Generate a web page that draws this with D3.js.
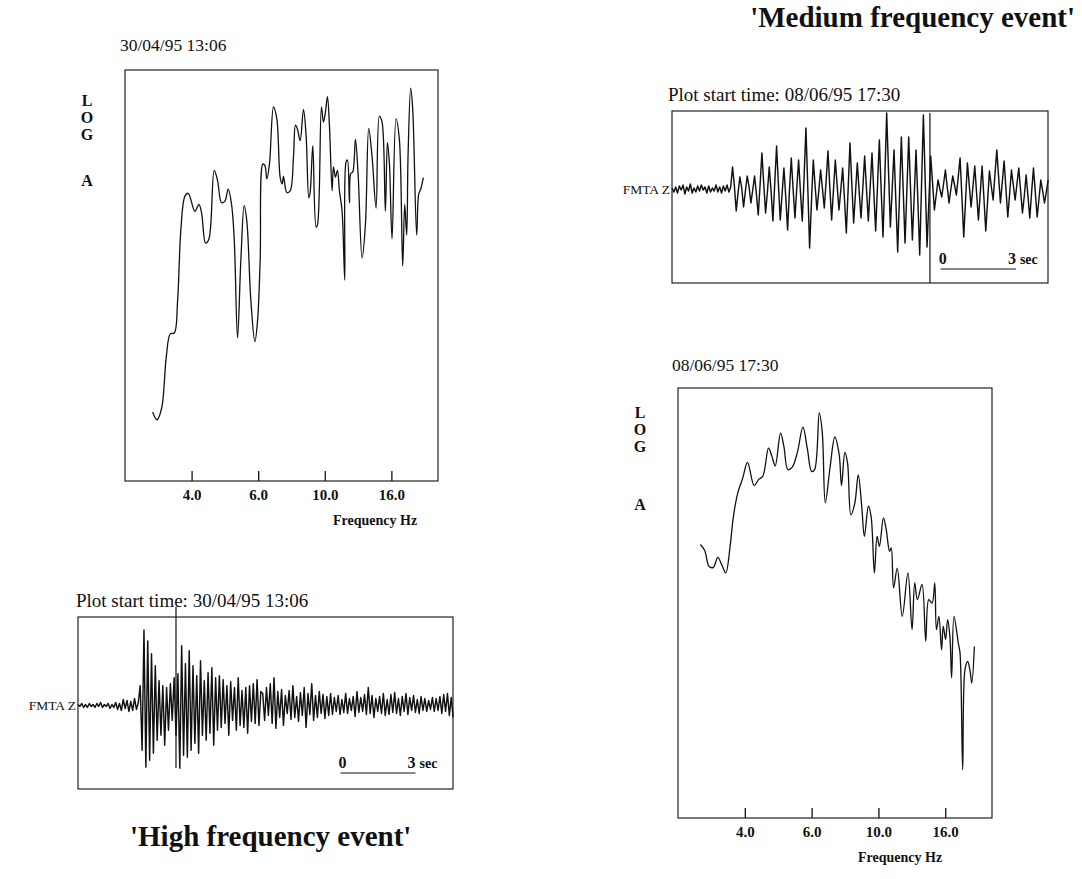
<!DOCTYPE html>
<html>
<head>
<meta charset="utf-8">
<script src="https://cdn.jsdelivr.net/npm/d3@7/dist/d3.min.js"></script>
<style>
body{margin:0;background:#fff}
svg text{font-family:"Liberation Serif","Times New Roman",serif;fill:#111}
</style>
</head>
<body>
<svg width="1082" height="879"></svg>
<script>
// frequency axis (ticks are equally spaced, axis is not linear in Hz)
var freqTicks = [4, 6, 10, 16]
var freqLimits = [2, 22.3]

// spectrum of the high frequency event, 30/04/95 13:06 (log A in % of plot height)
var highSpecFreq = [2.83,2.96,3.10,3.24,3.36,3.48,3.58,3.68,3.80,3.90,4.10,4.22,4.30,4.42,4.52,4.68,4.78,4.90,5.00,5.10,
    5.20,5.28,5.38,5.48,5.58,5.66,5.78,5.90,5.98,6.12,6.28,6.40,6.52,6.68,6.92,7.12,7.32,7.44,7.52,7.72,
    7.92,8.12,8.24,8.36,8.52,8.72,8.88,9.04,9.12,9.28,9.48,9.56,9.80,9.92,10.06,10.24,10.42,10.66,10.78,10.96,
    11.14,11.32,11.56,11.80,11.92,12.04,12.22,12.34,12.52,12.76,13.00,13.36,13.66,13.96,14.26,14.62,14.92,15.16,15.46,15.64,
    15.82,16.09,16.63,17.08,17.53,17.80,18.07,18.25,18.61,18.88,19.42,19.69,19.96,20.32]
var highSpecLogA = [16.8,14.9,17.7,30.2,35.8,36,43.9,61.4,69.3,70,65.6,67.3,65.2,57.9,58.9,75.6,73.1,67.7,68.1,71,
    67.3,58.9,34.8,53.9,67,63.1,43.9,33.9,38.9,53.9,77.1,76.8,73.5,77.3,91,88.1,73.9,72.3,74.1,70.2,
    70.6,78.9,86.6,85.6,82.8,90.4,83.9,68.9,70.2,81.6,61.8,62.3,91,87.3,89.8,93.5,86.4,70.6,76.4,73.9,
    75.6,70.6,65.6,48.9,77.7,78.1,67.7,74.8,75.2,83.1,74.8,54.3,62.3,85.8,78.9,66.4,88.8,87.3,65.6,82.3,
    77.3,58.9,88.1,83.1,52.3,67.3,59.8,78.9,95.6,90.6,59.8,69.8,71,73.8]

// spectrum of the medium frequency event, 08/06/95 17:30
var medSpecFreq = [2.67,2.80,2.93,3.06,3.19,3.31,3.43,3.56,3.66,3.79,3.94,4.08,4.28,4.41,4.54,4.71,4.81,4.91,5.07,5.17,
    5.29,5.42,5.57,5.74,5.87,6.00,6.18,6.46,6.64,6.82,7.10,7.39,7.65,7.79,7.99,8.15,8.35,8.59,8.79,9.00,
    9.16,9.40,9.56,9.76,9.92,10.09,10.45,10.70,11.00,11.15,11.36,11.69,12.14,12.65,13.02,13.26,13.50,13.92,14.25,14.52,
    14.82,15.06,15.21,15.43,15.67,15.82,16.05,16.32,16.63,16.86,17.18,17.76,17.99,18.35,18.66,19.03,19.35,19.57,19.93]
var medSpecLogA = [63.6,62.2,58.5,58.3,60.6,58.9,57.0,63.2,70.2,75.6,79.1,82.7,77.3,78.7,79.5,86.0,84.1,81.9,89.5,86.4,
    81.0,81.6,84.9,90.9,86.0,80.6,81.0,94.2,89.5,73.3,81.4,88.6,84.5,77.3,85.0,82.6,70.5,73.3,79.8,72.5,
    65.5,72.5,70.2,57.0,65.5,63.2,69.8,67.1,62.0,62.8,53.5,58.1,46.9,57.0,43.8,54.7,50.8,54.3,41.1,50.8,
    50.0,54.7,43.8,46.9,39.1,44.6,41.5,46.1,42.2,32.6,46.9,40.7,38.4,11.2,34.5,36.4,34.1,31.4,39.9]

// FMTA Z seismograms, counts sampled every dt seconds
var highTrace = [1,-1,2,-2,1,-2,2,-1,1,-2,2,-1,3,-2,1,-1,2,-3,1,-2,3,-4,2,-5,6,-3,5,-6,4,-5,7,-4,3,
    20,-45,76,-62,65,-55,52,-48,40,
    -35,25,-30,20,-40,18,-25,22,-15,28,
    -30,32,-63,60,-50,42,-52,55,-45,
    40,-38,30,-48,45,-30,25,-35,33,-28,38,-40,28,-25,30,
    -22,26,-18,20,-30,24,-15,18,-25,28,-20,15,-22,18,-28,20,-16,22,-18,26,-20,14,
    12,-15,18,-10,22,-18,28,-23,14,-12,16,-20,10,-8,15,-14,20,-12,9,-16,13,-10,18,-22,12,-9,22,-15,10,-12,14,-8,11,-13,9,-10,12,-9,
    8,-6,10,-9,6,-7,12,-8,7,-5,9,-11,14,-7,8,-6,11,-9,18,-8,10,-12,7,-6,9,-8,12,-10,6,-9,11,-7,13,-8,7,-10,9,-6,12,-9,
    8,-5,10,-7,6,-8,9,-5,7,-6,5,-4,8,-6,7,-5,9,-8,11,-6,12,-10,8,-12]
var highDt = 0.0754

var medTrace = [1,-3,2,-4,3,-1,4,-5,2,-2,5,-4,1,-3,3,-2,4,-1,2,-4,3,-3,1,-2,4,-3,2,-4,3,-2,4,-3,2,
    22,3,-22,-4,12,1,-18,-2,13,2,-14,-1,13,-5,-26,4,36,5,-24,-3,22,-2,-32,6,43,4,-31,-5,21,-8,-41,-2,
    31,0,-29,1,29,-3,-32,12,61,2,-59,-13,29,3,-21,-2,19,0,-19,8,38,2,-31,-1,29,4,-21,-1,21,-10,-44,0,
    46,5,-34,-4,26,-2,-29,1,33,0,-32,2,36,-4,-42,3,49,-1,-48,12,76,18,-38,0,39,-12,-63,-6,52,-1,-54,-2,
    52,0,-51,-7,39,-12,-66,4,74,8,-58,-12,
    33,6,-21,-6,9,0,-8,5,19,2,-14,0,13,4,-6,12,31,-8,-48,-11,26,4,-18,2,23,-4,-31,-4,23,-9,-42,-12,
    18,3,-11,14,39,12,-14,7,28,0,-28,-5,19,4,-11,5,21,-2,-24,-7,14,-7,-29,-3,21,-3,-28,-10,9,-2,-14,-3,9]
var medDt = 0.0732

var traceSpan = 15        // seconds shown in each seismogram box
var highPick = 3.92       // picked arrival, seconds
var medPick = 10.29
var scaleBar = 3          // seconds

var svg = d3.select("svg")

var addText = function(x, y, str, size, weight, anchor)
{
    return svg.append("text")
        .attr("x", x)
        .attr("y", y)
        .attr("font-size", size)
        .attr("font-weight", weight || "normal")
        .attr("text-anchor", anchor || "start")
        .text(str)
}

var drawSpectrum = function(box, freq, logA, dateText)
{
    var breaks = [freqLimits[0]].concat(freqTicks).concat([freqLimits[1]])
    var steps = [0, 1, 2, 3, 4, 4.7]
    var xScale = d3.scaleLinear()
        .domain(breaks)
        .range(steps.map(function(s){ return box.x + s * box.w / 4.7 }))
    var yScale = d3.scaleLinear()
        .domain([0, 100])
        .range([box.y + box.h, box.y])

    svg.append("rect")
        .attr("x", box.x).attr("y", box.y)
        .attr("width", box.w).attr("height", box.h)
        .attr("fill", "none")
        .attr("stroke", "#222")
        .attr("stroke-width", 1.2)

    var axis = svg.append("g")
        .attr("transform", "translate(0," + (box.y + box.h) + ")")
        .call(d3.axisBottom(xScale)
            .tickValues(freqTicks)
            .tickFormat(d3.format(".1f"))
            .tickSize(-10)
            .tickPadding(box.pad))
    axis.select(".domain").remove()
    axis.selectAll("line").attr("stroke", "#111").attr("stroke-width", 1.3)
    axis.selectAll("text")
        .attr("font-size", 15)
        .attr("font-weight", "bold")
        .attr("font-family", "'Liberation Serif',serif")
        .attr("fill", "#111")

    var line = d3.line()
        .x(function(d){ return xScale(d[0]) })
        .y(function(d){ return yScale(d[1]) })
        .curve(d3.curveCatmullRom.alpha(0.5))

    svg.append("path")
        .datum(d3.zip(freq, logA))
        .attr("d", line)
        .attr("fill", "none")
        .attr("stroke", "#111")
        .attr("stroke-width", 1.3)

    addText(box.dateX, box.dateY, dateText, 17.5)
    addText(box.hzX, box.hzY, "Frequency Hz", 14, "bold")
    var letters = ["L", "O", "G", "A"]
    letters.forEach(function(l, i){
        addText(box.logX, box.logY[i], l, 16, "bold", "middle")
    })
}

var drawTrace = function(box, trace, dt, pick, title)
{
    var xScale = d3.scaleLinear()
        .domain([0, traceSpan])
        .range([box.x, box.x + box.w])
    var yScale = d3.scaleLinear()
        .domain(box.amp)
        .range([box.y + box.h, box.y])

    svg.append("rect")
        .attr("x", box.x).attr("y", box.y)
        .attr("width", box.w).attr("height", box.h)
        .attr("fill", "none")
        .attr("stroke", "#222")
        .attr("stroke-width", 1.2)

    var line = d3.line()
        .x(function(d, i){ return xScale(i * dt) })
        .y(function(d){ return yScale(d) })

    svg.append("path")
        .datum(trace)
        .attr("d", line)
        .attr("fill", "none")
        .attr("stroke", "#111")
        .attr("stroke-width", 1.45)
        .attr("stroke-linejoin", "round")

    svg.append("line")
        .attr("x1", xScale(pick)).attr("x2", xScale(pick))
        .attr("y1", box.pickTop).attr("y2", box.pickBottom)
        .attr("stroke", "#111")
        .attr("stroke-width", 1.2)

    addText(box.x - 2, yScale(0) + 5, "FMTA Z", 13.5, "normal", "end")
    addText(box.titleX, box.titleY, "Plot start time: " + title, 19)

    // 0 ---- 3 sec
    var x0 = xScale(box.barStart), x1 = xScale(box.barStart + scaleBar)
    svg.append("line")
        .attr("x1", x0).attr("x2", x1)
        .attr("y1", box.barY + 5).attr("y2", box.barY + 5)
        .attr("stroke", "#111").attr("stroke-width", 1.2)
    addText(x0 - 2, box.barY, "0", 16, "bold")
    addText(x1, box.barY, String(scaleBar), 16, "bold", "end")
    addText(x1 + 4, box.barY, "sec", 14, "bold")
}

drawSpectrum({x:125, y:70, w:313, h:411, pad:8, dateX:120, dateY:51,
    hzX:333, hzY:525, logX:87, logY:[106, 123, 140, 186]},
    highSpecFreq, highSpecLogA, "30/04/95 13:06")

drawSpectrum({x:678, y:388, w:314, h:430, pad:8, dateX:672, dateY:371,
    hzX:858, hzY:862, logX:640, logY:[418, 435, 452, 510]},
    medSpecFreq, medSpecLogA, "08/06/95 17:30")

drawTrace({x:78, y:617, w:375, h:172, amp:[-84, 89], pickTop:607, pickBottom:768,
    titleX:76, titleY:607, barStart:10.5, barY:768},
    highTrace, highDt, highPick, "30/04/95 13:06")

drawTrace({x:672, y:111, w:376, h:172, amp:[-94, 78], pickTop:113, pickBottom:283,
    titleX:668, titleY:101, barStart:10.72, barY:264},
    medTrace, medDt, medPick, "08/06/95 17:30")

addText(1075, 27, "'Medium frequency event'", 29, "bold", "end")
addText(130, 846, "'High frequency event'", 29, "bold")
</script>
</body>
</html>
